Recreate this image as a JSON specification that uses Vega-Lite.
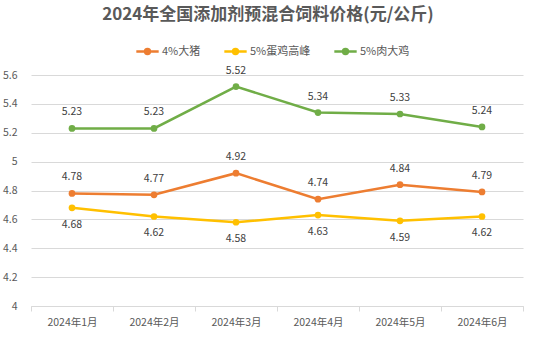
{
  "$schema": "https://vega.github.io/schema/vega-lite/v6.json",
  "autosize": {"type": "none"},
  "width": 492,
  "height": 231,
  "padding": {"left": 31, "top": 75, "right": 14, "bottom": 46},
  "background": "white",
  "config": {
    "font": "Noto Sans CJK SC",
    "view": {"stroke": null}
  },
  "title": {
    "text": "2024年全国添加剂预混合饲料价格(元/公斤)",
    "fontSize": 17,
    "fontWeight": "bold",
    "color": "#595959",
    "anchor": "middle",
    "offset": 15,
    "dx": -9
  },
  "data": {
    "values": [
      {"month": "2024年1月", "series": "4%大猪", "value": 4.78},
      {"month": "2024年2月", "series": "4%大猪", "value": 4.77},
      {"month": "2024年3月", "series": "4%大猪", "value": 4.92},
      {"month": "2024年4月", "series": "4%大猪", "value": 4.74},
      {"month": "2024年5月", "series": "4%大猪", "value": 4.84},
      {"month": "2024年6月", "series": "4%大猪", "value": 4.79},
      {"month": "2024年1月", "series": "5%蛋鸡高峰", "value": 4.68},
      {"month": "2024年2月", "series": "5%蛋鸡高峰", "value": 4.62},
      {"month": "2024年3月", "series": "5%蛋鸡高峰", "value": 4.58},
      {"month": "2024年4月", "series": "5%蛋鸡高峰", "value": 4.63},
      {"month": "2024年5月", "series": "5%蛋鸡高峰", "value": 4.59},
      {"month": "2024年6月", "series": "5%蛋鸡高峰", "value": 4.62},
      {"month": "2024年1月", "series": "5%肉大鸡", "value": 5.23},
      {"month": "2024年2月", "series": "5%肉大鸡", "value": 5.23},
      {"month": "2024年3月", "series": "5%肉大鸡", "value": 5.52},
      {"month": "2024年4月", "series": "5%肉大鸡", "value": 5.34},
      {"month": "2024年5月", "series": "5%肉大鸡", "value": 5.33},
      {"month": "2024年6月", "series": "5%肉大鸡", "value": 5.24}
    ]
  },
  "encoding": {
    "x": {
      "field": "month",
      "type": "nominal",
      "title": null,
      "scale": {"paddingInner": 0, "paddingOuter": 0},
      "axis": {
        "labelAngle": 0,
        "labelColor": "#595959",
        "labelFontSize": 10.5,
        "labelPadding": 6,
        "domainColor": "#d9d9d9",
        "tickColor": "#d9d9d9",
        "tickBand": "extent",
        "tickSize": 5,
        "grid": false
      }
    },
    "y": {
      "field": "value",
      "type": "quantitative",
      "title": null,
      "scale": {"domain": [4, 5.6], "nice": false, "zero": false},
      "axis": {
        "values": [4, 4.2, 4.4, 4.6, 4.8, 5, 5.2, 5.4, 5.6],
        "format": "~g",
        "labelColor": "#595959",
        "labelFontSize": 10.5,
        "labelPadding": 14,
        "domain": false,
        "ticks": false,
        "gridColor": "#d9d9d9",
        "gridWidth": 1
      }
    },
    "color": {
      "field": "series",
      "type": "nominal",
      "title": null,
      "scale": {
        "domain": ["4%大猪", "5%蛋鸡高峰", "5%肉大鸡"],
        "range": ["#ED7D31", "#FFC000", "#70AD47"]
      },
      "legend": {
        "orient": "none",
        "direction": "horizontal",
        "legendX": 104,
        "legendY": -36,
        "labelColor": "#595959",
        "labelFontSize": 11,
        "symbolType": "M-1,0L1,0M-0.22,0A0.22,0.22,0,1,0,0.22,0A0.22,0.22,0,1,0,-0.22,0Z",
        "symbolSize": 500,
        "symbolStrokeWidth": 2.5,
        "symbolOffset": 0,
        "labelOffset": 2,
        "columnPadding": 18
      }
    }
  },
  "layer": [
    {"mark": {"type": "line", "strokeWidth": 2.5}},
    {"mark": {"type": "point", "filled": true, "size": 45, "opacity": 1}},
    {
      "transform": [{"filter": "datum.series !== '5%蛋鸡高峰'"}],
      "mark": {"type": "text", "dy": -16, "fontSize": 10.5, "color": "#404040"},
      "encoding": {"text": {"field": "value", "type": "quantitative", "format": ".2f"}, "color": {"value": "#404040"}}
    },
    {
      "transform": [{"filter": "datum.series === '5%蛋鸡高峰'"}],
      "mark": {"type": "text", "dy": 17, "fontSize": 10.5, "color": "#404040"},
      "encoding": {"text": {"field": "value", "type": "quantitative", "format": ".2f"}, "color": {"value": "#404040"}}
    }
  ]
}
